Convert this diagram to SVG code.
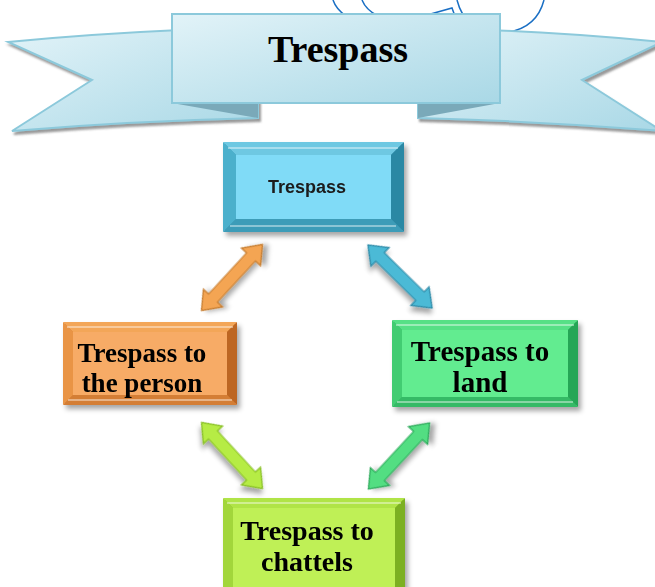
<svg xmlns="http://www.w3.org/2000/svg" width="655" height="587" viewBox="0 0 655 587">
<defs>
<style>
.ttl{font-family:"Liberation Serif","Times New Roman",serif;font-weight:bold;fill:#000;text-anchor:middle}
.sm{font-family:"Liberation Sans",Arial,sans-serif;font-weight:bold;fill:#1a1a1a;text-anchor:middle}
.hl{fill:none;stroke:#fff;stroke-opacity:0.55;stroke-width:1.5}
</style>
<filter id="sh" x="-20%" y="-20%" width="140%" height="150%"><feDropShadow dx="3" dy="4" stdDeviation="2.5" flood-color="#000" flood-opacity="0.35"/></filter>
<filter id="wsh" x="-10%" y="-20%" width="120%" height="150%"><feDropShadow dx="2" dy="3" stdDeviation="1" flood-color="#555" flood-opacity="0.6"/></filter>
<linearGradient id="bn" x1="0" y1="0" x2="1" y2="1"><stop offset="0" stop-color="#e2f3f8"/><stop offset="1" stop-color="#a9d8e6"/></linearGradient>
<path id="arr" d="M -45 0 L -28 -13 L -28 -6 L 28 -6 L 28 -13 L 45 0 L 28 13 L 28 6 L -28 6 L -28 13 Z"/>
</defs>

<g id="banner">
<path d="M 333 0 Q 336 9 346 16 M 362 0 Q 366 10 378 16 M 420 17 L 452 8 L 456 19 M 457 0 Q 465 32 500 33 Q 536 31 544 0" fill="none" stroke="#1a6fc4" stroke-width="1.5"/>
<path d="M 8 42 Q 90 34 180 30 L 258 30 L 258 118 Q 130 121 12 131 L 92 80 Z" fill="url(#bn)" stroke="#8cc9db" stroke-width="2" filter="url(#wsh)"/>
<path d="M 418 28 Q 540 30 662 42 L 582 80 L 662 131 Q 540 121 418 118 Z" fill="url(#bn)" stroke="#8cc9db" stroke-width="2" filter="url(#wsh)"/>
<polygon points="172,103 258,103 258,118" fill="#7aa9b9"/>
<polygon points="418,103 500,103 418,118" fill="#7aa9b9"/>
<rect x="172" y="14" width="328" height="89" fill="url(#bn)" stroke="#8cc9db" stroke-width="2"/>
<text class="ttl" x="338" y="62" font-size="38">Trespass</text>
</g>

<g id="connectors">
<use href="#arr" transform="translate(232,277.5) rotate(-47.3)" fill="#f4a552" stroke="#c47a2c" stroke-width="1.2" filter="url(#sh)"/>
<use href="#arr" transform="translate(400,276.5) rotate(44.5)" fill="#4cbad6" stroke="#2a88a6" stroke-width="1.2" filter="url(#sh)"/>
<use href="#arr" transform="translate(232,455.5) rotate(47.3)" fill="#b6ec44" stroke="#86be22" stroke-width="1.2" filter="url(#sh)"/>
<use href="#arr" transform="translate(399,456) rotate(-47.2)" fill="#52de82" stroke="#2aa858" stroke-width="1.2" filter="url(#sh)"/>
</g>

<g id="node-top" filter="url(#sh)">
<rect x="223" y="142" width="181" height="90" rx="5" fill="#3a9ab6"/>
<polygon points="223,142 404,142 391,155 236,155" fill="#6ec8e2"/>
<polygon points="223,142 236,155 236,219 223,232" fill="#4cb0cc"/>
<polygon points="404,142 404,232 391,219 391,155" fill="#2b88a4"/>
<polygon points="223,232 404,232 391,219 236,219" fill="#3c9cb8"/>
<line class="hl" x1="228" y1="148" x2="398" y2="148"/>
<line class="hl" x1="230" y1="226" x2="396" y2="226"/>
<rect x="236" y="155" width="155" height="64" fill="#80dbf7"/>
<text class="sm" x="307" y="193" font-size="18">Trespass</text>
</g>

<g id="node-person" filter="url(#sh)">
<rect x="63" y="322" width="174" height="83" rx="5" fill="#d27c32"/>
<polygon points="63,322 237,322 227,332 73,332" fill="#f3a658"/>
<polygon points="63,322 73,332 73,395 63,405" fill="#e99444"/>
<polygon points="237,322 237,405 227,395 227,332" fill="#bd6620"/>
<polygon points="63,405 237,405 227,395 73,395" fill="#d47e34"/>
<line class="hl" x1="67" y1="327" x2="233" y2="327"/>
<line class="hl" x1="68" y1="400" x2="232" y2="400"/>
<rect x="73" y="332" width="154" height="63" fill="#f7ab66"/>
<text class="ttl" x="142" y="362" font-size="27">Trespass to</text>
<text class="ttl" x="142" y="392" font-size="27">the person</text>
</g>

<g id="node-land" filter="url(#sh)">
<rect x="392" y="320" width="186" height="87" rx="5" fill="#34b864"/>
<polygon points="392,320 578,320 568,330 402,330" fill="#56e086"/>
<polygon points="392,320 402,330 402,397 392,407" fill="#42cc72"/>
<polygon points="578,320 578,407 568,397 568,330" fill="#27a656"/>
<polygon points="392,407 578,407 568,397 402,397" fill="#36ba66"/>
<line class="hl" x1="396" y1="325" x2="574" y2="325"/>
<line class="hl" x1="397" y1="402" x2="573" y2="402"/>
<rect x="402" y="330" width="166" height="67" fill="#62ec90"/>
<text class="ttl" x="480" y="361" font-size="29">Trespass to</text>
<text class="ttl" x="480" y="392" font-size="29">land</text>
</g>

<g id="node-chattels" filter="url(#sh)">
<rect x="223" y="498" width="182" height="95" rx="5" fill="#8cc22a"/>
<polygon points="223,498 405,498 395,508 233,508" fill="#b0e446"/>
<polygon points="223,498 233,508 233,593 223,593" fill="#a2d63a"/>
<polygon points="405,498 405,593 395,593 395,508" fill="#7cb020"/>
<line class="hl" x1="227" y1="503" x2="401" y2="503"/>
<rect x="233" y="508" width="162" height="85" fill="#bff057"/>
<text class="ttl" x="307" y="540" font-size="28">Trespass to</text>
<text class="ttl" x="307" y="571" font-size="28">chattels</text>
</g>
</svg>
